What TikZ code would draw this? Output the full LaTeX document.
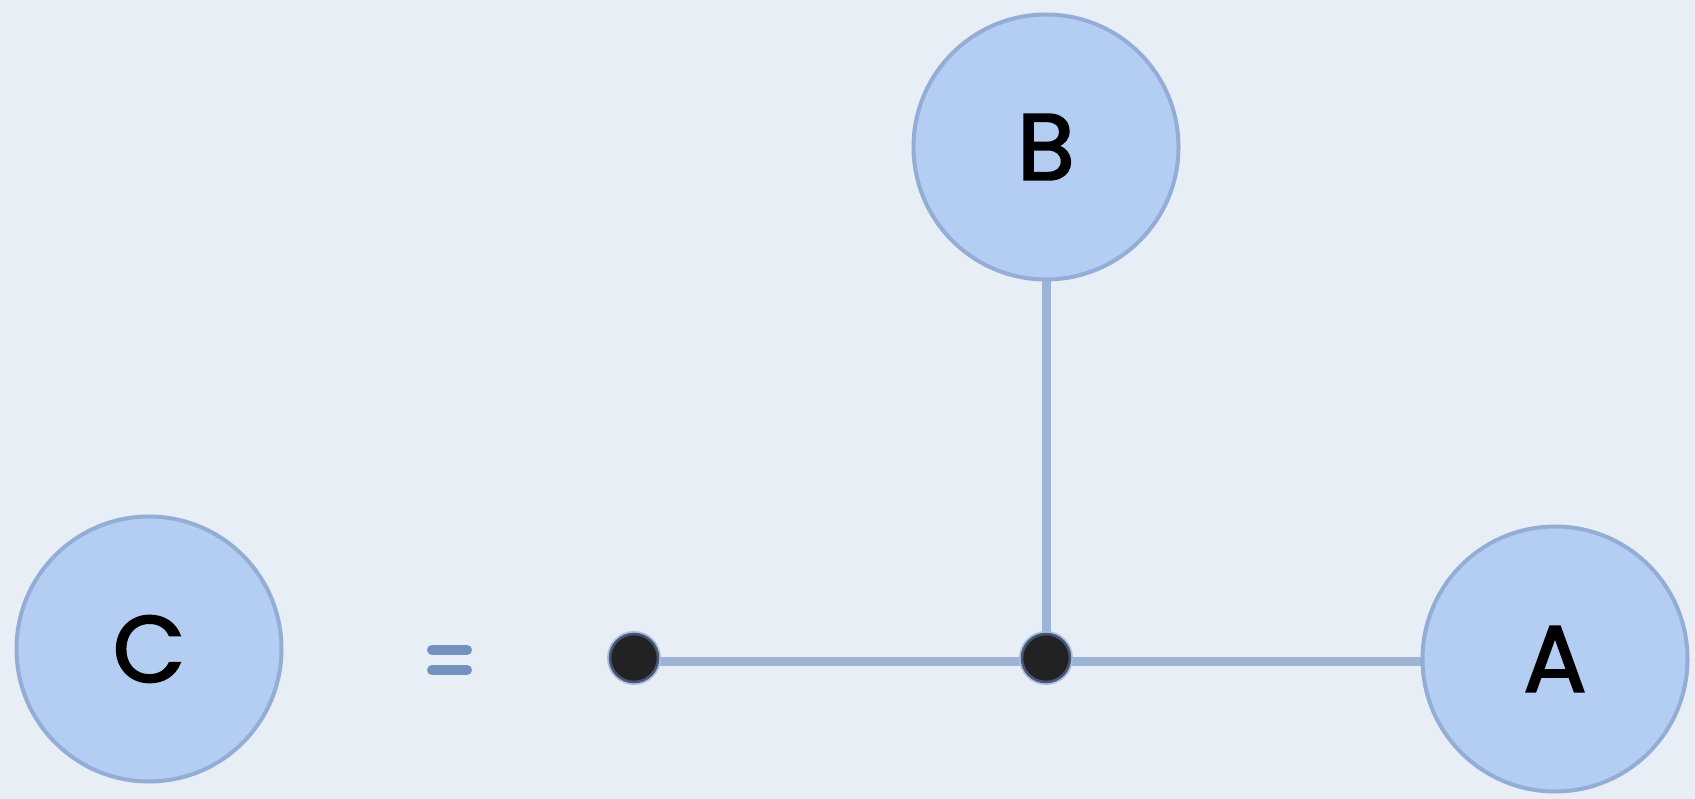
\documentclass[tikz,border=0pt]{standalone}
\usepackage{fontspec}
\setmainfont{Poppins}
\newfontfamily\labelfont[FakeBold=2]{Poppins}
\pgfdeclarelayer{bg}
\pgfdeclarelayer{edges}
\pgfsetlayers{bg,edges,main}
\definecolor{paper}{RGB}{232,238,246}
\definecolor{nodefill}{RGB}{179,206,242}
\definecolor{nodeedge}{RGB}{148,173,214}
\definecolor{wire}{RGB}{158,180,214}
\definecolor{dotfill}{RGB}{34,34,36}
\definecolor{dotedge}{RGB}{72,86,112}
\definecolor{dothalo}{RGB}{170,192,224}
\definecolor{eqcol}{RGB}{116,144,190}
\tikzset{
  bignode/.style={circle, fill=nodefill, draw=nodeedge, line width=4pt,
    minimum size=265pt, inner sep=0pt, font=\labelfont\fontsize{94}{94}\selectfont, text=black},
  joint/.style={circle, fill=dotfill, draw=dotedge, line width=2.5pt,
    minimum size=48pt, inner sep=0pt,
    preaction={draw=dothalo, line width=6pt}},
  wireline/.style={draw=wire, line width=9pt},
  eqbar/.style={draw=eqcol, line width=10pt, line cap=round}
}
\begin{document}
\begin{tikzpicture}[x=1pt,y=-1pt]
\begin{pgfonlayer}{bg}
\fill[paper] (0,0) rectangle (1695,799);
\end{pgfonlayer}
\useasboundingbox (0,0) rectangle (1695,799);
\node[bignode] (B) at (1046,147) {B};
\node[bignode] (C) at (149,649) {C};
\node[bignode] (A) at (1555,659) {A};
\node[joint] (d1) at (634,658) {};
\node[joint] (d2) at (1046,658) {};
\coordinate (eqL1) at (432,650);
\coordinate (eqR1) at (467,650);
\coordinate (eqL2) at (432,670);
\coordinate (eqR2) at (467,670);
\draw[eqbar] (eqL1) -- (eqR1);
\draw[eqbar] (eqL2) -- (eqR2);
\begin{pgfonlayer}{edges}
\draw[wireline] (B.south) -- (d2.center);
\draw[wireline] ([yshift=-3pt]d1.center) -- ([yshift=-3pt]d1.center -| A.west);
\end{pgfonlayer}
\end{tikzpicture}
\end{document}
